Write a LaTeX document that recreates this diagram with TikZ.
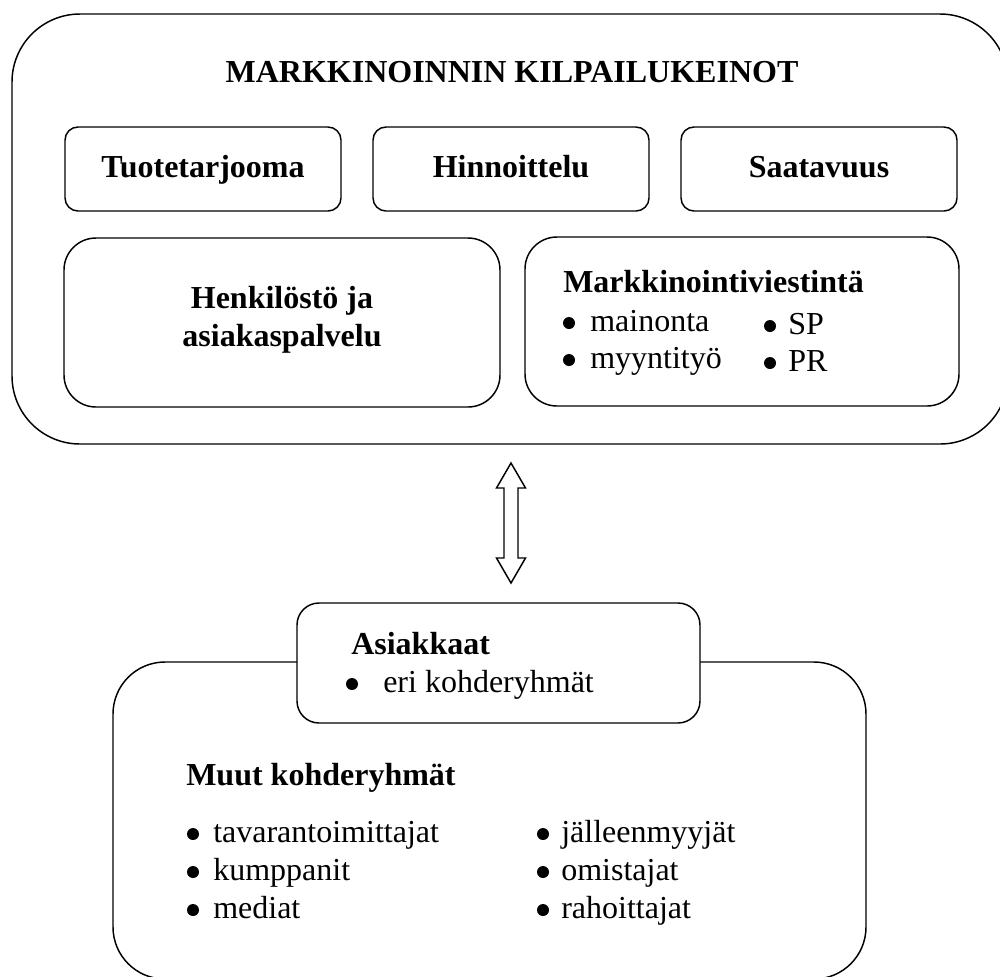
\documentclass[tikz,border=0pt]{standalone}
\usepackage{fontspec}
\setmainfont{Liberation Serif}
\usepackage{tikz}
\usetikzlibrary{positioning}
\newcommand{\pxu}{0.75pt}
\newcommand{\bigfont}{\fontsize{24}{28.5}\selectfont}
\tikzset{
  frame/.style={draw,line width=1.1pt,rounded corners=#1,inner sep=0pt,fill=white},
  cell/.style={frame=13*\pxu,minimum width=276*\pxu,minimum height=84*\pxu,
    font=\bigfont\bfseries,text height=22*\pxu,text depth=5*\pxu},
  txt/.style={inner sep=0pt,anchor=base west,font=\bigfont},
  head/.style={txt,font=\bigfont\bfseries},
  dot/.style={circle,fill,inner sep=0pt,minimum size=12*\pxu},
}
\begin{document}
\begin{tikzpicture}[x=0.75pt,y=-0.75pt]
        \useasboundingbox (0,0) rectangle (1000,976);
        \clip (0,0) rectangle (1000,976);
        % upper group
        \node[frame=68*\pxu,minimum width=996*\pxu,minimum height=430*\pxu] (kilp) at (510,229) {};
        \node[head,anchor=base] (otsikko) at (512,82) {MARKKINOINNIN KILPAILUKEINOT};
        \node[cell] (tuote) at (203,169) {Tuotetarjooma};
        \node[cell] (hinta) at (511,169) {Hinnoittelu};
        \node[cell] (saata) at (819,169) {Saatavuus};
        \node[frame=32*\pxu,minimum width=436*\pxu,minimum height=169*\pxu] (henk) at (282,322.5) {};
        \node[head,anchor=base] (henk1) at (282,308) {Henkilöstö ja};
        \node[head,anchor=base] (henk2) at (282,346) {asiakaspalvelu};
        \node[frame=32*\pxu,minimum width=434*\pxu,minimum height=169*\pxu] (viest) at (742,321.5) {};
        \node[head] (viestot) at (563,292) {Markkinointiviestintä};
        \node[dot] (d1) at (569,323) {};
        \node[txt] (mainonta) at (590,331) {mainonta};
        \node[dot] (d2) at (569,360) {};
        \node[txt] (myynti) at (590,368) {myyntityö};
        \node[dot] (d3) at (770,326) {};
        \node[txt] (sp) at (788,334) {SP};
        \node[dot] (d4) at (770,363) {};
        \node[txt] (pr) at (788,371) {PR};
        % two-way arrow
        \coordinate (nuoli) at (511,523);
        \draw[line width=1.1pt,fill=white] (nuoli) ++(0,-60) -- ++(14.5,25) -- ++(-7.5,0) -- ++(0,70)
          -- ++(7.5,0) -- ++(-14.5,25) -- ++(-14.5,-25) -- ++(7.5,0) -- ++(0,-70) -- ++(-7.5,0) -- cycle;
        % lower group
        \node[frame=52*\pxu,minimum width=753*\pxu,minimum height=317*\pxu] (muut) at (489.5,820.5) {};
        \node[frame=22*\pxu,minimum width=403*\pxu,minimum height=120*\pxu] (asiak) at (498.5,663) {};
        \node[head] (asiakot) at (351,654) {Asiakkaat};
        \node[dot] (d5) at (352,684) {};
        \node[txt] (eri) at (383,692) {eri kohderyhmät};
        \node[head] (muutot) at (186,785) {Muut kohderyhmät};
        \foreach \t/\b [count=\i] in {tavarantoimittajat/842,kumppanit/880,mediat/918} {
          \node[dot] (vl\i) at (193,\b-8) {};
          \node[txt] (tl\i) at (213,\b) {\t};
        }
        \foreach \t/\b [count=\i] in {jälleenmyyjät/842,omistajat/880,rahoittajat/918} {
          \node[dot] (vr\i) at (543,\b-8) {};
          \node[txt] (tr\i) at (561,\b) {\t};
        }
      \end{tikzpicture}
\end{document}
